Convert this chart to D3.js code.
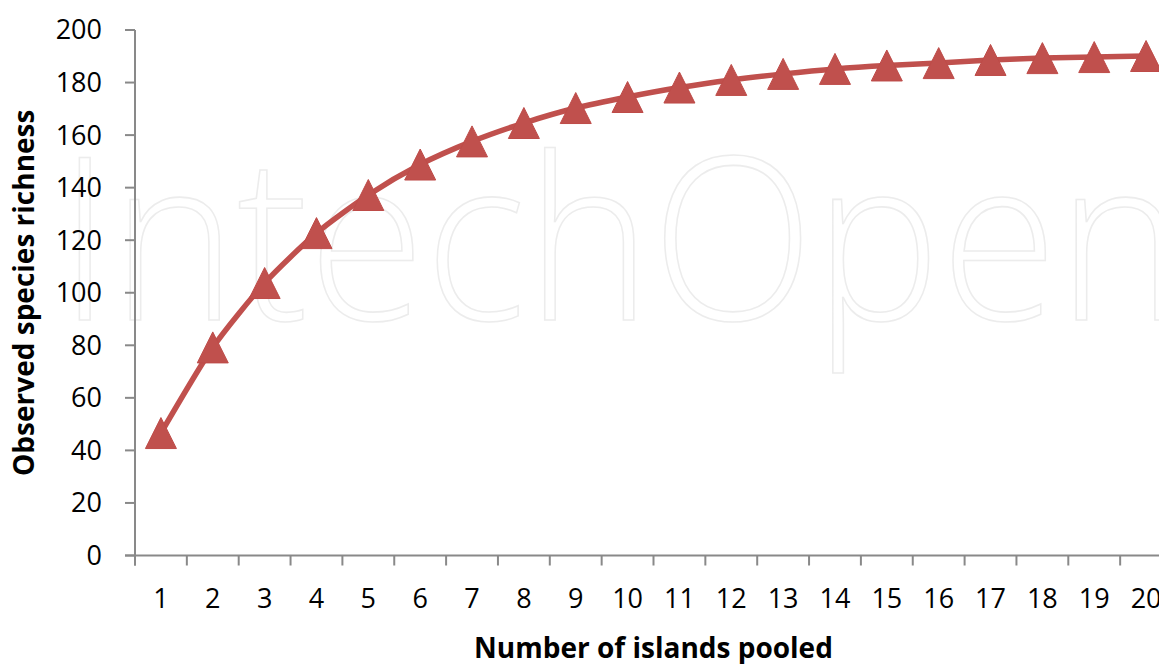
<!DOCTYPE html>
<html>
<head>
<meta charset="utf-8">
<script src="https://cdn.jsdelivr.net/npm/d3@7"></script>
<style>
  html, body { margin: 0; padding: 0; background: #fff; }
  svg { display: block; }
</style>
</head>
<body>
<svg id="chart" width="1159" height="664"></svg>
<script>
// ---- data ----
const categories = ["1","2","3","4","5","6","7","8","9","10","11","12","13","14","15","16","17","18","19","20"];
const richness = [46.6, 79.2, 103.7, 122.7, 137.2, 148.8, 157.6, 164.6, 170.3, 174.5, 178.1, 181.0, 183.3, 185.2, 186.5, 187.4, 188.6, 189.3, 189.7, 190.1];
const yTicks = [0, 20, 40, 60, 80, 100, 120, 140, 160, 180, 200];
const xTitle = "Number of islands pooled";
const yTitle = "Observed species richness";
const watermark = "IntechOpen";

// ---- layout ----
const W = 1159, H = 664;
const plotLeft = 135, plotTop = 30, plotBottom = 555.5;
const bandW = 51.85;
const plotRight = plotLeft + bandW * categories.length;

const svg = d3.select("#chart");

const x = d3.scaleBand().domain(categories).range([plotLeft, plotRight]).padding(0);
const y = d3.scaleLinear().domain([0, 200]).range([plotBottom, plotTop]);

const axisColor = "#898989";
const tickFont = "'Open Sans', 'Noto Sans', sans-serif";

// watermark (faint outlined text)
svg.append("text")
  .attr("x", 58).attr("y", 320)
  .attr("font-family", "'Open Sans', sans-serif")
  .attr("font-weight", 300)
  .attr("font-size", 228)
  .attr("textLength", 1125)
  .attr("lengthAdjust", "spacingAndGlyphs")
  .attr("fill", "#ffffff")
  .attr("stroke", "#ececec")
  .attr("stroke-width", 1.6)
  .text(watermark);

// y axis
const yAxis = svg.append("g");
yAxis.append("line")
  .attr("x1", plotLeft).attr("x2", plotLeft)
  .attr("y1", y(200)).attr("y2", y(0) + 10)
  .attr("stroke", axisColor).attr("stroke-width", 2);
yAxis.selectAll("line.tick").data(yTicks).join("line")
  .attr("class", "tick")
  .attr("x1", plotLeft - 10).attr("x2", plotLeft)
  .attr("y1", d => y(d)).attr("y2", d => y(d))
  .attr("stroke", axisColor).attr("stroke-width", 2);
yAxis.selectAll("text").data(yTicks).join("text")
  .attr("x", 102).attr("y", d => y(d))
  .attr("dy", "0.35em")
  .attr("text-anchor", "end")
  .attr("font-family", tickFont)
  .attr("font-size", 27)
  .attr("fill", "#000")
  .text(d => d);

// x axis
const xAxis = svg.append("g");
xAxis.append("line")
  .attr("x1", plotLeft - 10).attr("x2", W)
  .attr("y1", y(0)).attr("y2", y(0))
  .attr("stroke", axisColor).attr("stroke-width", 2);
const boundaries = categories.map(c => x(c)).concat([x(categories[categories.length - 1]) + x.bandwidth()]);
xAxis.selectAll("line.tick").data(boundaries).join("line")
  .attr("class", "tick")
  .attr("x1", d => d).attr("x2", d => d)
  .attr("y1", y(0)).attr("y2", y(0) + 10)
  .attr("stroke", axisColor).attr("stroke-width", 2);
xAxis.selectAll("text").data(categories).join("text")
  .attr("x", d => x(d) + x.bandwidth() / 2)
  .attr("y", 608)
  .attr("text-anchor", "middle")
  .attr("font-family", tickFont)
  .attr("font-size", 27)
  .attr("fill", "#000")
  .text(d => d);

// titles
svg.append("text")
  .attr("x", (plotLeft + plotRight) / 2)
  .attr("y", 658)
  .attr("text-anchor", "middle")
  .attr("font-family", tickFont)
  .attr("font-weight", "bold")
  .attr("font-size", 28)
  .attr("fill", "#000")
  .text(xTitle);
svg.append("text")
  .attr("transform", `translate(34, ${(plotTop + plotBottom) / 2}) rotate(-90)`)
  .attr("text-anchor", "middle")
  .attr("font-family", tickFont)
  .attr("font-weight", "bold")
  .attr("font-size", 28)
  .attr("fill", "#000")
  .text(yTitle);

// series line
const pts = categories.map((c, i) => [x(c) + x.bandwidth() / 2, y(richness[i])]);
const red = "#C0504D";
svg.append("path")
  .attr("d", d3.line().curve(d3.curveCardinal.tension(0.3))(pts))
  .attr("fill", "none")
  .attr("stroke", red)
  .attr("stroke-width", 5.5)
  .attr("stroke-linejoin", "round");

// triangle markers
const half = 15.5;
svg.selectAll("path.marker").data(pts).join("path")
  .attr("class", "marker")
  .attr("d", d => `M${d[0]},${d[1] - half}L${d[0] + half},${d[1] + half}L${d[0] - half},${d[1] + half}Z`)
  .attr("fill", red)
  .attr("stroke", "#BE4B48")
  .attr("stroke-width", 1)
  .attr("stroke-linejoin", "round");
</script>
</body>
</html>
